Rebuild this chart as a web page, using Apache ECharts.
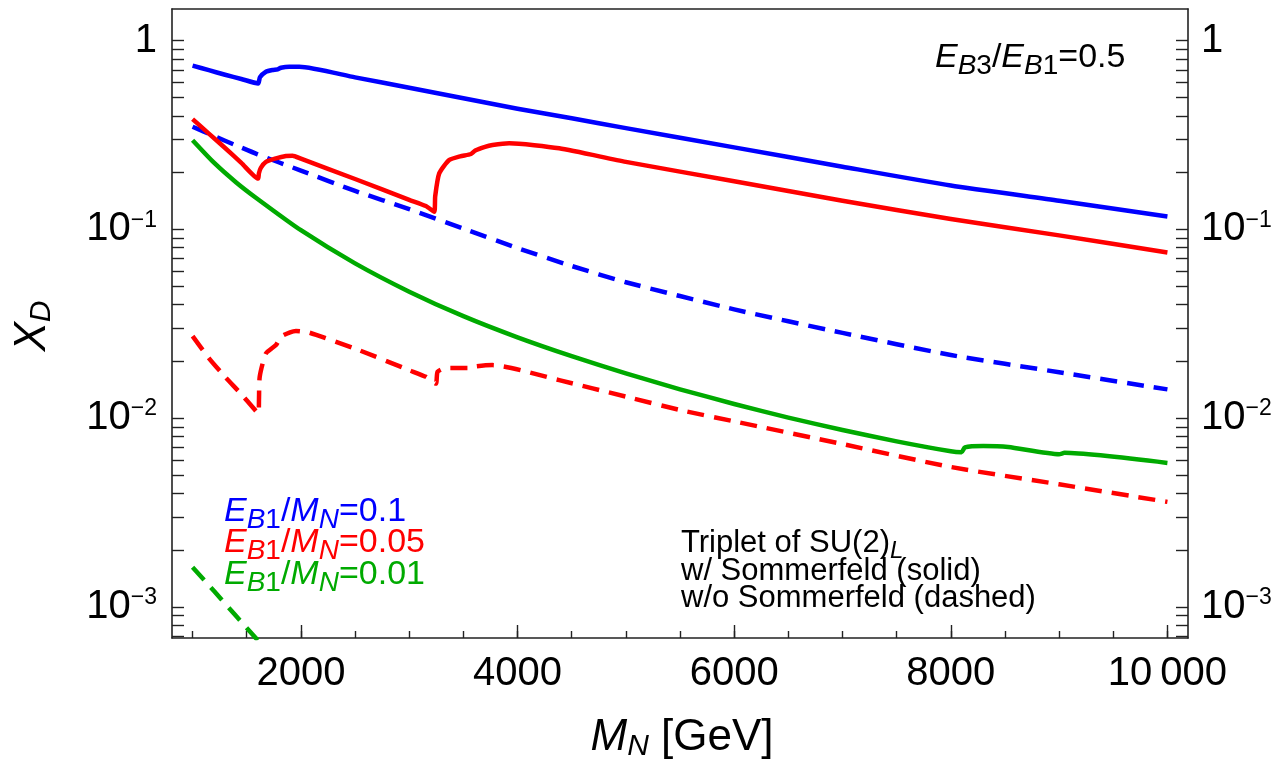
<!DOCTYPE html>
<html>
<head>
<meta charset="utf-8">
<script src="https://cdn.jsdelivr.net/npm/echarts@6/dist/echarts.min.js"></script>
<style>
  html, body { margin: 0; padding: 0; background: #ffffff; }
  #chart { width: 1286px; height: 766px; }
</style>
</head>
<body>
<div id="chart"></div>
<script>
// ---- axis ticks ----
const xMajorTicks = [2000, 4000, 6000, 8000, 10000];
const xMinorTicks = [1000, 1500, 2000, 2500, 3000, 3500, 4000, 4500, 5000, 5500,
                     6000, 6500, 7000, 7500, 8000, 8500, 9000, 9500, 10000];
const yLabelTicks = [0.001, 0.01, 0.1, 1];
const yAllTicks = [0.0007, 0.0008, 0.0009,
                   0.001, 0.002, 0.003, 0.004, 0.005, 0.006, 0.007, 0.008, 0.009,
                   0.01, 0.02, 0.03, 0.04, 0.05, 0.06, 0.07, 0.08, 0.09,
                   0.1, 0.2, 0.3, 0.4, 0.5, 0.6, 0.7, 0.8, 0.9, 1];

// ---- E_B1/M_N = 0.1, with Sommerfeld (blue solid) ----
const massBlueSolid = [1000, 1150, 1300, 1450, 1605, 1622, 1677, 1738, 1785, 1816, 1893, 1985,
                       2500, 3000, 4000, 4500, 5000, 6000, 7000, 8000, 9000, 10000];
const xdBlueSolid   = [0.737, 0.698, 0.660, 0.627, 0.594, 0.640, 0.685, 0.700, 0.705, 0.719, 0.728, 0.728,
                       0.639, 0.563, 0.436, 0.388, 0.344, 0.272, 0.215, 0.171, 0.142, 0.117];

// ---- E_B1/M_N = 0.05, with Sommerfeld (red solid) ----
const massRedSolid = [1000, 1150, 1300, 1450, 1605, 1612, 1630, 1677, 1770, 1862, 1923, 2000,
                      2500, 3000, 3154, 3231, 3240, 3277, 3369, 3470, 3570, 3610, 3700, 3769,
                      3923, 4385, 5000, 6000, 7000, 8000, 9000, 10000];
const xdRedSolid   = [0.384, 0.322, 0.270, 0.225, 0.186, 0.198, 0.212, 0.228, 0.238, 0.245, 0.246, 0.237,
                      0.185, 0.1435, 0.133, 0.124, 0.150, 0.198, 0.233, 0.244, 0.251, 0.262, 0.274, 0.280,
                      0.286, 0.269, 0.228, 0.180, 0.142, 0.1135, 0.0930, 0.0755];

// ---- E_B1/M_N = 0.01, with Sommerfeld (green solid) ----
const massGreenSolid = [1000, 1200, 1400, 1600, 2000, 2500, 3000, 3500, 4000, 4500, 5000, 5500,
                        6000, 6500, 7000, 7500, 8000, 8100, 8130, 8300, 8530, 9000, 9050, 10000];
const xdGreenSolid   = [0.297, 0.225, 0.178, 0.145, 0.099, 0.0661, 0.0468, 0.0347, 0.0268, 0.0213, 0.01726, 0.01422,
                        0.01189, 0.01007, 0.00865, 0.00753, 0.00667, 0.0066, 0.0070, 0.00712, 0.00703, 0.00644, 0.00655, 0.00579];

// ---- E_B1/M_N = 0.1, without Sommerfeld (blue dashed) ----
const massBlueDashed = [1000, 1200, 1400, 1600, 2000, 2500, 3000, 3500, 4000, 4500, 5000, 6000,
                        7000, 8000, 9000, 10000];
const xdBlueDashed   = [0.350, 0.312, 0.279, 0.250, 0.205, 0.160, 0.128, 0.101, 0.0796, 0.0640, 0.0525, 0.0377,
                        0.0283, 0.0216, 0.0175, 0.0142];

// ---- E_B1/M_N = 0.05, without Sommerfeld (red dashed) ----
const massRedDashed = [1000, 1150, 1300, 1450, 1609, 1613, 1620, 1677, 1770, 1816, 1900, 1954,
                       2077, 2538, 3000, 3154, 3246, 3262, 3339, 3585, 3616, 3769, 4385, 5000,
                       5515, 6000, 7000, 8000, 9000, 10000];
const xdRedDashed   = [0.0272, 0.0208, 0.01655, 0.0134, 0.01057, 0.0125, 0.0166, 0.0220, 0.0244, 0.0270, 0.0285, 0.0290,
                       0.0284, 0.0229, 0.01795, 0.01655, 0.01525, 0.0176, 0.01846, 0.01846, 0.0188, 0.0191, 0.0159, 0.0130,
                       0.0110, 0.00962, 0.00729, 0.00551, 0.00446, 0.0036];

// ---- E_B1/M_N = 0.01, without Sommerfeld (green dashed) ----
const massGreenDashed = [1000, 1200, 1400, 1600, 1700];
const xdGreenDashed   = [0.00162, 0.00121, 0.000897, 0.000667, 0.000575];

const FONT = '"Liberation Sans", Arial, Helvetica, sans-serif';
const BLUE = '#0000ff', RED = '#ff0000', GREEN = '#00aa00';
const FRAME = '#222222';
const X_MIN = 810, X_MAX = 10190;
const Y_MIN = 0.000684, Y_MAX = 1.472;
const DASH = [17, 10];

const pairs = (xs, ys) => xs.map((x, i) => [x, ys[i]]);

function xLabel(v) {
  return v >= 10000 ? String(Math.floor(v / 1000)) + '\u2009' + String(v % 1000).padStart(3, '0') : String(v);
}
function yLabel(v) {
  const e = Math.round(Math.log10(v));
  return e === 0 ? '1' : '{b|10}{s|\u2212' + (-e) + '}';
}
const yLabelRich = {
  b: { fontSize: 40, fontFamily: FONT, color: '#000' },
  s: { fontSize: 23, fontFamily: FONT, color: '#000', padding: [0, 0, 18, 0] }
};

function lineSeries(name, xs, ys, color, dashed) {
  return {
    name: name,
    type: 'line',
    xAxisIndex: 0,
    yAxisIndex: 0,
    data: pairs(xs, ys),
    showSymbol: false,
    symbol: 'none',
    clip: true,
    smooth: 0.2,
    lineStyle: { color: color, width: 4.5, type: dashed ? DASH : 'solid', cap: 'butt', join: 'round' },
    emphasis: { disabled: true },
    z: dashed ? 2 : 3
  };
}

const frameLine = { show: true, onZero: false, lineStyle: { color: FRAME, width: 1.6 } };
const tickStyle = { color: FRAME, width: 1.4 };

function yAxisDef(position) {
  return {
    type: 'log',
    logBase: 10,
    min: Y_MIN,
    max: Y_MAX,
    position: position,
    axisLine: frameLine,
    axisTick: { show: true, inside: true, length: 12, customValues: yAllTicks, lineStyle: tickStyle },
    minorTick: { show: false },
    axisLabel: {
      customValues: yLabelTicks,
      formatter: yLabel,
      rich: yLabelRich,
      fontSize: 40,
      fontFamily: FONT,
      color: '#000',
      margin: position === 'left' ? 15 : 13
    },
    splitLine: { show: false }
  };
}

// sub/superscript rich styles for annotations
function annoRich(size, subSize, color) {
  return {
    i: { fontSize: size, fontFamily: FONT, fontStyle: 'italic', fill: color },
    n: { fontSize: size, fontFamily: FONT, fill: color },
    si: { fontSize: subSize, fontFamily: FONT, fontStyle: 'italic', fill: color, padding: [17, 0, 0, 0] },
    sn: { fontSize: subSize, fontFamily: FONT, fill: color, padding: [17, 0, 0, 0] }
  };
}
function annoText(x, y, text, size, subSize, color, extra) {
  return Object.assign({
    type: 'text',
    x: x,
    y: y,
    silent: true,
    style: {
      text: text,
      rich: annoRich(size, subSize, color),
      fontSize: size,
      fontFamily: FONT,
      fill: color,
      align: 'left',
      verticalAlign: 'middle'
    }
  }, extra || {});
}

const option = {
  animation: false,
  backgroundColor: '#ffffff',
  grid: { left: 172, top: 9, right: 98, bottom: 128, containLabel: false },
  xAxis: [
    {
      type: 'value', min: X_MIN, max: X_MAX, position: 'bottom',
      axisLine: frameLine,
      axisTick: { show: true, inside: true, length: 13, customValues: xMajorTicks, lineStyle: tickStyle },
      axisLabel: { customValues: xMajorTicks, formatter: xLabel, fontSize: 40, fontFamily: FONT, color: '#000', margin: 16 },
      splitLine: { show: false }
    },
    {
      type: 'value', min: X_MIN, max: X_MAX, position: 'bottom',
      axisLine: { show: false },
      axisTick: { show: true, inside: true, length: 7, customValues: xMinorTicks, lineStyle: tickStyle },
      axisLabel: { show: false },
      splitLine: { show: false }
    },
    {
      type: 'value', min: X_MIN, max: X_MAX, position: 'top',
      axisLine: frameLine,
      axisTick: { show: false },
      axisLabel: { show: false },
      splitLine: { show: false }
    }
  ],
  yAxis: [yAxisDef('left'), yAxisDef('right')],
  series: [
    lineSeries('blueDashed', massBlueDashed, xdBlueDashed, BLUE, true),
    lineSeries('redDashed', massRedDashed, xdRedDashed, RED, true),
    lineSeries('greenDashed', massGreenDashed, xdGreenDashed, GREEN, true),
    lineSeries('greenSolid', massGreenSolid, xdGreenSolid, GREEN, false),
    lineSeries('redSolid', massRedSolid, xdRedSolid, RED, false),
    lineSeries('blueSolid', massBlueSolid, xdBlueSolid, BLUE, false)
  ],
  graphic: [
    // axis titles
    annoText(33, 326, '{i|X}{si|D}', 44, 30, '#000', {
      rotation: Math.PI / 2,
      style: {
        text: '{i|X}{si|D}', rich: annoRich(44, 30, '#000'), fontSize: 44, fontFamily: FONT,
        fill: '#000', align: 'center', verticalAlign: 'middle'
      }
    }),
    annoText(682, 738, '{i|M}{si|N}{n| [GeV]}', 44, 30, '#000', {
      style: {
        text: '{i|M}{si|N}{n| [GeV]}', rich: annoRich(44, 30, '#000'), fontSize: 44, fontFamily: FONT,
        fill: '#000', align: 'center', verticalAlign: 'middle'
      }
    }),
    // ratio annotation
    annoText(935, 58, '{i|E}{si|B}{sn|3}{n|/}{i|E}{si|B}{sn|1}{n|=0.5}', 34, 28, '#000'),
    // colour key
    annoText(224, 512, '{i|E}{si|B}{sn|1}{n|/}{i|M}{si|N}{n|=0.1}', 34, 28, BLUE),
    annoText(224, 543, '{i|E}{si|B}{sn|1}{n|/}{i|M}{si|N}{n|=0.05}', 34, 28, RED),
    annoText(224, 575, '{i|E}{si|B}{sn|1}{n|/}{i|M}{si|N}{n|=0.01}', 34, 28, GREEN),
    // model description
    annoText(681, 543, '{n|Triplet of SU(2)}{si|L}', 31, 24, '#000'),
    annoText(681, 571, '{n|w/ Sommerfeld (solid)}', 31, 24, '#000'),
    annoText(681, 598, '{n|w/o Sommerfeld (dashed)}', 31, 24, '#000')
  ]
};

const chart = echarts.init(document.getElementById('chart'), null, { renderer: 'canvas' });
chart.setOption(option);
</script>
</body>
</html>
